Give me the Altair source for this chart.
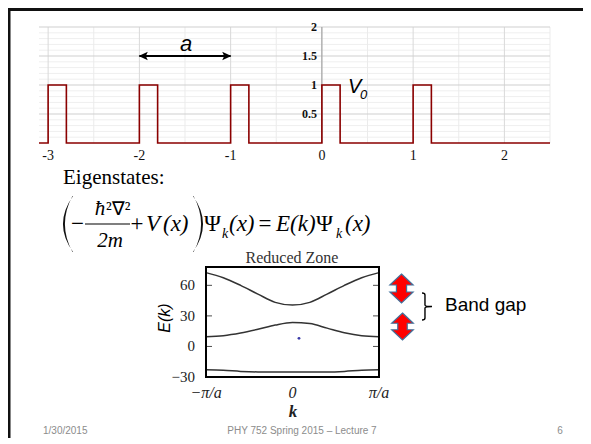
import altair as alt
import pandas as pd

# ---------------- data: periodic potential (top panel) ----------------
V_x = [-3.1, -3, -3, -2.8, -2.8, -2, -2, -1.8, -1.8, -1, -1, -0.8, -0.8,
       0, 0, 0.2, 0.2, 1, 1, 1.2, 1.2, 2.5]
V_y = [0, 0, 1, 1, 0, 0, 1, 1, 0, 0, 1, 1, 0, 0, 1, 1, 0, 0, 1, 1, 0, 0]
x_ticks = [-3, -2, -1, 0, 1, 2]
x_tick_labels = ["-3", "-2", "-1", "0", "1", "2"]
y_ticks = [0.5, 1, 1.5, 2]
y_tick_labels = ["0.5", "1", "1.5", "2"]
x_grid_major = [-3, -2, -1, 0, 1, 2]
x_grid_minor = [-2.5, -1.5, -0.5, 0.5, 1.5, 2.5]
y_grid_major = [0.5, 1, 1.5, 2]
y_grid_minor = [0.1, 0.2, 0.3, 0.4, 0.6, 0.7, 0.8, 0.9, 1.1, 1.2, 1.3, 1.4,
                1.6, 1.7, 1.8, 1.9]
x_min, x_max = -3.1, 2.5
y_min, y_max = 0, 2
arrow_x = [-2, -1]
arrow_y = [1.5, 1.5]

# ---------------- data: band structure (bottom panel) ----------------
k = [-1, -0.8, -0.6, -0.4, -0.2, 0, 0.2, 0.4, 0.6, 0.8, 1]
E1 = [-23, -23.4, -24.5, -25, -25, -25, -25, -25, -24.5, -23.4, -23]
E2 = [9.5, 10.5, 13.1, 16.8, 21, 23.6, 22.5, 18, 13.5, 10.5, 9.5]
E3 = [72.5, 67.5, 60, 51.4, 43.3, 40.6, 43.3, 51.4, 60, 67.5, 72.5]
E_ticks = [60, 30, 0, -30]
E_tick_labels = ["60", "30", "0", "\u221230"]
k_ticks = [-1, 0, 1]
k_tick_labels = ["\u2212\u03c0/a", "0", "\u03c0/a"]
k_min, k_max = -1, 1
E_min, E_max = -30, 78
dot_k = [0.075]
dot_E = [8]

# ---------------- layout helpers ----------------
OX, OY = 8, 8  # page margin
SERIF = "Liberation Serif"
SANS = "Liberation Sans"
ONE = alt.Data(values=[{"i": 0}])

XT = alt.Scale(domain=[x_min, x_max], range=[39 - OX, 550 - OX], nice=False, zero=False)
YT = alt.Scale(domain=[y_min, y_max], range=[143 - OY, 27 - OY], nice=False, zero=False)
XB = alt.Scale(domain=[k_min, k_max], range=[206 - OX, 379 - OX], nice=False, zero=False)
YB = alt.Scale(domain=[E_min, E_max], range=[377 - OY, 267 - OY], nice=False, zero=False)


def note(text, x, y, size, font=SERIF, style="normal", weight="normal",
         color="#000000", align="left", baseline="alphabetic", angle=0):
    return alt.Chart(ONE).mark_text(
        text=text, fontSize=size, font=font, fontStyle=style, fontWeight=weight,
        color=color, align=align, baseline=baseline, angle=angle
    ).encode(x=alt.value(x - OX), y=alt.value(y - OY))


def glyph(path, x, y, size, fill="#000000", stroke=None, sw=1.0, filled=True):
    props = dict(shape=path, size=size, opacity=1, filled=filled)
    if filled:
        props["fill"] = fill
        props["fillOpacity"] = 1
    if stroke is not None:
        props["stroke"] = stroke
        props["strokeWidth"] = sw
    return alt.Chart(ONE).mark_point(**props).encode(
        x=alt.value(x - OX), y=alt.value(y - OY))


def hline(x1, x2, y, color="#000000", sw=1.0):
    return alt.Chart(ONE).mark_rule(color=color, strokeWidth=sw).encode(
        x=alt.value(x1 - OX), x2=alt.value(x2 - OX), y=alt.value(y - OY))


def vline(x, y1, y2, color="#000000", sw=1.0):
    return alt.Chart(ONE).mark_rule(color=color, strokeWidth=sw).encode(
        x=alt.value(x - OX), y=alt.value(y1 - OY), y2=alt.value(y2 - OY))


layers = []

# slide border (top and left edges)
layers.append(hline(7, 591, 9.5, color="#111111", sw=3))
layers.append(vline(9, 8, 444, color="#111111", sw=3))

# ---------------- top panel ----------------
def vgrid(xs, color):
    df = pd.DataFrame({"x": xs, "y0": [y_min] * len(xs), "y1": [y_max] * len(xs)})
    return alt.Chart(df).mark_rule(color=color, strokeWidth=1).encode(
        x=alt.X("x:Q", scale=XT, axis=None),
        y=alt.Y("y0:Q", scale=YT, axis=None), y2="y1:Q")


def hgrid(ys, color):
    df = pd.DataFrame({"y": ys, "x0": [x_min] * len(ys), "x1": [x_max] * len(ys)})
    return alt.Chart(df).mark_rule(color=color, strokeWidth=1).encode(
        y=alt.Y("y:Q", scale=YT, axis=None),
        x=alt.X("x0:Q", scale=XT, axis=None), x2="x1:Q")


layers.append(hgrid(y_grid_minor, "#efefef"))
layers.append(vgrid(x_grid_minor, "#ebebeb"))
layers.append(vgrid(x_grid_major, "#d9d9d9"))
layers.append(hgrid(y_grid_major, "#cfcfcf"))
# y axis at x = 0
layers.append(vgrid([0], "#9a9a9a"))

pot = pd.DataFrame({"x": V_x, "V": V_y, "i": list(range(len(V_x)))})
layers.append(alt.Chart(pot).mark_line(color="#8b0000", strokeWidth=1.6).encode(
    x=alt.X("x:Q", scale=XT, axis=None),
    y=alt.Y("V:Q", scale=YT, axis=None),
    order="i:Q"))

xt = pd.DataFrame({"x": x_ticks, "t": x_tick_labels})
layers.append(alt.Chart(xt).mark_text(font=SERIF, fontSize=14, color="#111111",
                                      baseline="middle").encode(
    x=alt.X("x:Q", scale=XT, axis=None), y=alt.value(156 - OY), text="t:N"))

yt = pd.DataFrame({"y": y_ticks, "t": y_tick_labels})
layers.append(alt.Chart(yt).mark_text(font=SERIF, fontSize=12, fontWeight="bold",
                                      color="#111111", align="right",
                                      baseline="middle").encode(
    y=alt.Y("y:Q", scale=YT, axis=None), x=alt.value(317 - OX), text="t:N"))

# double-headed arrow for the lattice constant a
arr = pd.DataFrame({"x": [arrow_x[0]], "x2": [arrow_x[1]], "y": [arrow_y[0]]})
layers.append(alt.Chart(arr).mark_rule(color="#000000", strokeWidth=2).encode(
    x=alt.X("x:Q", scale=XT, axis=None), x2="x2:Q",
    y=alt.Y("y:Q", scale=YT, axis=None)))
heads = pd.DataFrame({"x": arrow_x, "y": arrow_y})
HEAD_L = "M -1 0 L 0.6 -0.75 L 0.25 0 L 0.6 0.75 Z"
HEAD_R = "M 1 0 L -0.6 -0.75 L -0.25 0 L -0.6 0.75 Z"
layers.append(alt.Chart(heads.iloc[[0]]).mark_point(
    shape=HEAD_L, size=130, filled=True, color="#000000", opacity=1, xOffset=5).encode(
    x=alt.X("x:Q", scale=XT, axis=None), y=alt.Y("y:Q", scale=YT, axis=None)))
layers.append(alt.Chart(heads.iloc[[1]]).mark_point(
    shape=HEAD_R, size=130, filled=True, color="#000000", opacity=1, xOffset=-5).encode(
    x=alt.X("x:Q", scale=XT, axis=None), y=alt.Y("y:Q", scale=YT, axis=None)))

layers.append(note("a", 186, 51, 22, font=SANS, style="italic", align="center"))
layers.append(note("V", 348, 93, 20, font=SANS, style="italic"))
layers.append(note("0", 360, 99, 13, font=SANS, style="italic"))

# ---------------- equation ----------------
layers.append(note("Eigenstates:", 63, 184, 21))
PAREN_L = "M 0.18 -1 Q -0.54 0 0.18 1 L 0.16 1 Q -0.38 0 0.16 -1 Z"
PAREN_R = "M -0.18 -1 Q 0.54 0 -0.18 1 L -0.16 1 Q 0.38 0 -0.16 -1 Z"
layers.append(glyph(PAREN_L, 68, 224, 3136, fill="#111111"))
layers.append(glyph(PAREN_R, 198, 224, 3136, fill="#111111"))
layers.append(note("\u2212", 77.5, 231, 23, align="center"))
layers.append(note("\u0127", 100, 215, 21, style="italic", align="center"))
layers.append(note("\u00b2\u2207\u00b2", 106, 215, 19))
layers.append(hline(85, 130, 224, sw=1.2))
layers.append(note("2m", 110, 247, 21, style="italic", align="center"))
layers.append(note("+", 137, 231, 23, align="center"))
layers.append(note("V", 146, 231, 23, style="italic"))
layers.append(note("(x)", 163, 231, 23, style="italic"))
layers.append(note("\u03a8", 204, 231, 23))
layers.append(note("k", 222, 238, 14, style="italic"))
layers.append(note("(x)", 229, 231, 23, style="italic"))
layers.append(note("=", 265, 231, 23, align="center"))
layers.append(note("E(k)", 276, 231, 23, style="italic"))
layers.append(note("\u03a8", 316, 231, 23))
layers.append(note("k", 336, 238, 14, style="italic"))
layers.append(note("(x)", 345, 231, 23, style="italic"))

# ---------------- bottom panel: band structure ----------------
bands = pd.DataFrame({
    "k": k * 3,
    "E": E1 + E2 + E3,
    "band": ["1"] * len(k) + ["2"] * len(k) + ["3"] * len(k),
})
layers.append(alt.Chart(bands).mark_line(color="#333333", strokeWidth=1.5,
                                         interpolate="monotone").encode(
    x=alt.X("k:Q", scale=XB, axis=None),
    y=alt.Y("E:Q", scale=YB, axis=None),
    detail="band:N"))

dots = pd.DataFrame({"k": dot_k, "E": dot_E})
layers.append(alt.Chart(dots).mark_circle(color="#3a3aa8", size=8, opacity=1).encode(
    x=alt.X("k:Q", scale=XB, axis=None), y=alt.Y("E:Q", scale=YB, axis=None)))

frame = pd.DataFrame({"k0": [k_min], "k1": [k_max], "E0": [E_min], "E1": [E_max]})
layers.append(alt.Chart(frame).mark_rect(fillOpacity=0, stroke="#000000",
                                         strokeWidth=2).encode(
    x=alt.X("k0:Q", scale=XB, axis=None), x2="k1:Q",
    y=alt.Y("E0:Q", scale=YB, axis=None), y2="E1:Q"))

ticks_l = pd.DataFrame({"k": [k_min] * 3, "E": E_ticks[:3]})
layers.append(alt.Chart(ticks_l).mark_tick(orient="horizontal", size=6, thickness=1,
                                           color="#000000", xOffset=3).encode(
    x=alt.X("k:Q", scale=XB, axis=None), y=alt.Y("E:Q", scale=YB, axis=None)))
ticks_r = pd.DataFrame({"k": [k_max] * 3, "E": E_ticks[:3]})
layers.append(alt.Chart(ticks_r).mark_tick(orient="horizontal", size=6, thickness=1,
                                           color="#000000", xOffset=-3).encode(
    x=alt.X("k:Q", scale=XB, axis=None), y=alt.Y("E:Q", scale=YB, axis=None)))

et = pd.DataFrame({"E": E_ticks, "t": E_tick_labels})
layers.append(alt.Chart(et).mark_text(font=SERIF, fontSize=15, color="#222222",
                                      align="right", baseline="middle").encode(
    y=alt.Y("E:Q", scale=YB, axis=None), x=alt.value(195 - OX), text="t:N"))

kt = pd.DataFrame({"k": k_ticks, "t": k_tick_labels})
layers.append(alt.Chart(kt).mark_text(font=SERIF, fontSize=16, fontStyle="italic",
                                      color="#222222", baseline="middle").encode(
    x=alt.X("k:Q", scale=XB, axis=None), y=alt.value(393 - OY), text="t:N"))

layers.append(note("Reduced Zone", 292, 258, 16, color="#333333", align="center",
                   baseline="middle"))
layers.append(note("k", 293, 412, 17, style="italic", weight="bold", color="#222222",
                   align="center", baseline="middle"))
layers.append(note("E(k)", 165, 318, 16, font=SANS, style="italic", align="center",
                   baseline="middle", angle=270))

# red double arrows + brace + label
DARROW = ("M 0 -1 L 0.8 -0.24 L 0.35 -0.24 L 0.35 0.24 L 0.8 0.24 L 0 1 "
          "L -0.8 0.24 L -0.35 0.24 L -0.35 -0.24 L -0.8 -0.24 Z")
layers.append(glyph(DARROW, 401.5, 288.5, 841, fill="#ff0000", stroke="#41719c", sw=1.2))
layers.append(glyph(DARROW, 402.5, 326.5, 729, fill="#ff0000", stroke="#41719c", sw=1.2))
BRACE = ("M -0.37 -1 Q -0.15 -1 -0.15 -0.85 L -0.15 -0.12 Q -0.15 0 0.37 0 "
         "Q -0.15 0 -0.15 0.12 L -0.15 0.85 Q -0.15 1 -0.37 1")
layers.append(glyph(BRACE, 427, 306.5, 729, stroke="#000000", sw=1.4, filled=False))
layers.append(note("Band gap", 445, 305, 19, font=SANS, baseline="middle"))

# footer
layers.append(note("1/30/2015", 43, 431, 10, font=SANS, color="#8c8c8c", baseline="middle"))
layers.append(note("PHY 752  Spring 2015 \u2013 Lecture 7", 302, 431, 10, font=SANS,
                   color="#8c8c8c", align="center", baseline="middle"))
layers.append(note("6", 560, 431, 10, font=SANS, color="#8c8c8c", align="center",
                   baseline="middle"))

chart = alt.layer(*layers).resolve_scale(
    x="independent", y="independent"
).properties(
    width=575, height=430, padding=0,
    autosize=alt.AutoSizeParams(type="none"),
    background="white",
).configure_view(strokeWidth=0)

chart.save("out.html", embed_options={"renderer": "svg", "actions": False})
